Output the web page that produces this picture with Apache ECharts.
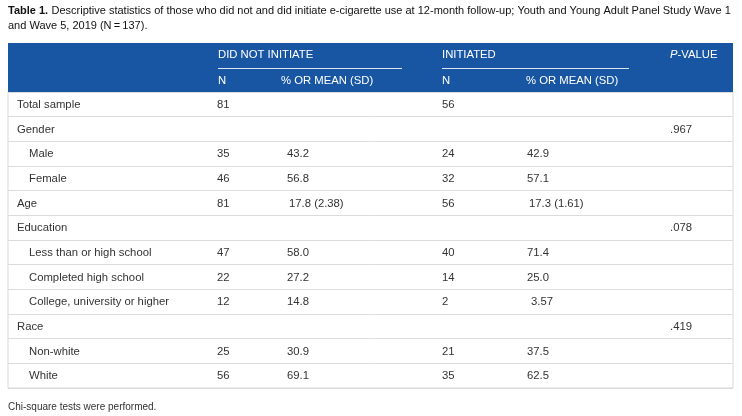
<!DOCTYPE html>
<html><head><meta charset="utf-8">
<script src="https://cdn.jsdelivr.net/npm/echarts@6/dist/echarts.min.js"></script>
<style>html,body{margin:0;padding:0;background:#fff}#c{width:742px;height:416px}</style>
</head><body><div id="c"></div>
<script>
// ---- data ----
const rowLabels = ['Total sample','Gender','Male','Female','Age','Education','Less than or high school','Completed high school','College, university or higher','Race','Non-white','White'];
const rowLevel = [0,0,1,1,0,0,1,1,1,0,1,1];
const notInitN = ['81','','35','46','81','','47','22','12','','25','56'];
const notInitPct = ['','','43.2','56.8','17.8 (2.38)','','58.0','27.2','14.8','','30.9','69.1'];
const initN = ['56','','24','32','56','','40','14','2','','21','35'];
const initPct = ['','','42.9','57.1','17.3 (1.61)','','71.4','25.0','3.57','','37.5','62.5'];
const pValues = ['','.967','','','','.078','','','','.419','',''];
const groupHeaders = ['DID NOT INITIATE','INITIATED'];
const subHeaders = ['N','% OR MEAN (SD)'];

// ---- layout ----
const L = 8, R = 733, HEAD_TOP = 43, HEAD_BOT = 92, TABLE_BOT = 388;
const COL_X = [17, 217, 287, 442, 527, 670]; // absolute px
const INDENT = 12;
const FONT = 'Liberation Sans, Arial, Helvetica, sans-serif';
const FS = '11.3px ';

const columns = [rowLabels, notInitN, notInitPct, initN, initPct, pValues];
const cells = [];
columns.forEach((col, c) => col.forEach((t, r) => { if (t !== '') cells.push([c, r]); }));

function valShift(t){
  const m = /^(\d+)\./.exec(t);
  if (m && m[1].length === 1) return 4;
  if (t.indexOf('(') >= 0) return 2;
  return 0;
}

const chart = echarts.init(document.getElementById('c'));
chart.setOption({
  animation: false,
  grid: { left: L, right: 742 - R, top: HEAD_BOT, bottom: 416 - TABLE_BOT, show: true, borderColor: '#d9d9d9', borderWidth: 1 },
  xAxis: { type: 'value', min: L, max: R, show: false },
  yAxis: { type: 'category', data: rowLabels, inverse: true, boundaryGap: true,
    axisLine: { show: false }, axisTick: { show: false }, axisLabel: { show: false },
    splitLine: { show: true, lineStyle: { color: '#dcdcdc', width: 1 } } },
  graphic: [
    { type: 'text', left: 8, top: 5, style: { rich: { b: { fontWeight: 'bold', fontSize: 11, fontFamily: FONT, fill: '#111' }, n: { fontSize: 11, fontFamily: FONT, fill: '#111' } },
      text: '{b|Table 1.} {n|Descriptive statistics of those who did not and did initiate e-cigarette use at 12-month follow-up; Youth and Young Adult Panel Study Wave 1}', fill: '#111' } },
    { type: 'text', left: 8, top: 20, style: { text: 'and Wave 5, 2019 (N\u2009=\u2009137).', font: '11px ' + FONT, fill: '#111' } },
    { type: 'rect', shape: { x: L, y: HEAD_TOP, width: R - L, height: HEAD_BOT - HEAD_TOP }, style: { fill: '#1856A4' }, z: 1 },
    { type: 'line', shape: { x1: 218, y1: 68.5, x2: 402, y2: 68.5 }, style: { stroke: 'rgba(255,255,255,0.85)', lineWidth: 1 }, z: 2 },
    { type: 'line', shape: { x1: 442, y1: 68.5, x2: 629, y2: 68.5 }, style: { stroke: 'rgba(255,255,255,0.85)', lineWidth: 1 }, z: 2 },
    { type: 'text', x: 218, y: 55, z: 3, style: { text: groupHeaders[0], font: FS + FONT, fill: '#fff', verticalAlign: 'middle' } },
    { type: 'text', x: 442, y: 55, z: 3, style: { text: groupHeaders[1], font: FS + FONT, fill: '#fff', verticalAlign: 'middle' } },
    { type: 'text', x: 670, y: 55, z: 3, style: { rich: { i: { fontStyle: 'italic', fontSize: 11.3, fontFamily: FONT, fill: '#fff' }, n: { fontSize: 11.3, fontFamily: FONT, fill: '#fff' } }, text: '{i|P}{n|-VALUE}', verticalAlign: 'middle' } },
    { type: 'text', x: 218, y: 81, z: 3, style: { text: subHeaders[0], font: FS + FONT, fill: '#fff', verticalAlign: 'middle' } },
    { type: 'text', x: 281, y: 81, z: 3, style: { text: subHeaders[1], font: FS + FONT, fill: '#fff', verticalAlign: 'middle' } },
    { type: 'text', x: 442, y: 81, z: 3, style: { text: subHeaders[0], font: FS + FONT, fill: '#fff', verticalAlign: 'middle' } },
    { type: 'text', x: 526, y: 81, z: 3, style: { text: subHeaders[1], font: FS + FONT, fill: '#fff', verticalAlign: 'middle' } },
    { type: 'text', left: 8, top: 402, style: { text: 'Chi-square tests were performed.', font: '10px ' + FONT, fill: '#333' } }
  ],
  series: [{
    type: 'custom',
    data: cells,
    clip: false,
    renderItem: function (params, api) {
      const c = api.value(0), r = api.value(1);
      const t = columns[c][r];
      let x = COL_X[c];
      if (c === 0 && rowLevel[r] === 1) x += INDENT;
      if (c === 2 || c === 4) x += valShift(t);
      const p = api.coord([x, r]);
      return { type: 'text', x: p[0], y: p[1] + 0.5, style: { text: t, font: FS + FONT, fill: '#333', verticalAlign: 'middle', align: 'left' } };
    }
  }]
});
</script></body></html>
